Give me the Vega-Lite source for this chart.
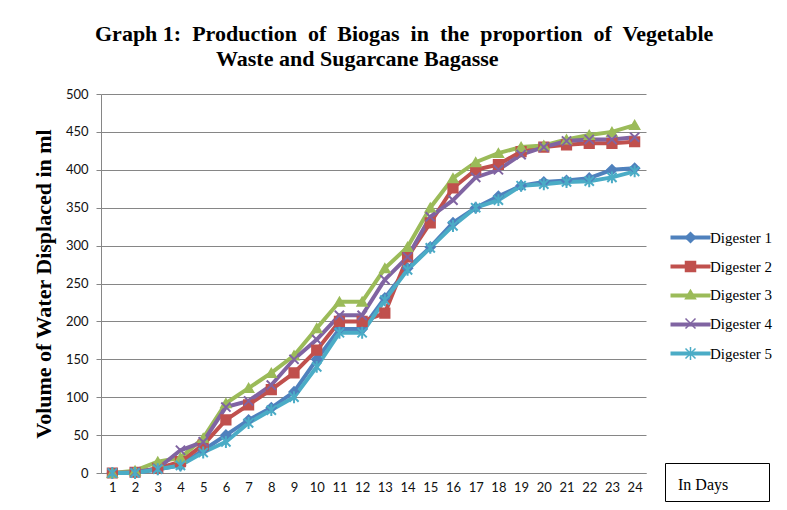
{
  "$schema": "https://vega.github.io/schema/vega-lite/v6.json",
  "autosize": "none",
  "width": 545,
  "height": 379,
  "padding": {"left": 101, "top": 94, "right": 141, "bottom": 37},
  "background": "white",
  "title": {
    "text": ["Graph 1:\u00a0 Production\u00a0 of\u00a0 Biogas\u00a0 in\u00a0 the\u00a0 proportion\u00a0 of\u00a0 Vegetable", "\u200b\u00a0\u00a0\u00a0\u00a0\u00a0\u00a0\u00a0\u00a0\u00a0\u00a0\u00a0\u00a0\u00a0\u00a0\u00a0\u00a0\u00a0\u00a0\u00a0\u00a0\u00a0\u00a0Waste and Sugarcane Bagasse"],
    "anchor": "start",
    "frame": "group",
    "align": "left",
    "dx": -6,
    "font": "Liberation Serif",
    "fontSize": 22,
    "fontWeight": "bold",
    "color": "#000000",
    "lineHeight": 25,
    "offset": 17
  },
  "datasets": {
    "biogas": [
      {"day": 1, "digester": "Digester 1", "value": 0}, {"day": 2, "digester": "Digester 1", "value": 0}, {"day": 3, "digester": "Digester 1", "value": 5}, {"day": 4, "digester": "Digester 1", "value": 10}, {"day": 5, "digester": "Digester 1", "value": 30}, {"day": 6, "digester": "Digester 1", "value": 50}, {"day": 7, "digester": "Digester 1", "value": 70}, {"day": 8, "digester": "Digester 1", "value": 86}, {"day": 9, "digester": "Digester 1", "value": 107}, {"day": 10, "digester": "Digester 1", "value": 150}, {"day": 11, "digester": "Digester 1", "value": 190}, {"day": 12, "digester": "Digester 1", "value": 190}, {"day": 13, "digester": "Digester 1", "value": 231}, {"day": 14, "digester": "Digester 1", "value": 270}, {"day": 15, "digester": "Digester 1", "value": 298}, {"day": 16, "digester": "Digester 1", "value": 330}, {"day": 17, "digester": "Digester 1", "value": 350}, {"day": 18, "digester": "Digester 1", "value": 365}, {"day": 19, "digester": "Digester 1", "value": 379}, {"day": 20, "digester": "Digester 1", "value": 384}, {"day": 21, "digester": "Digester 1", "value": 386}, {"day": 22, "digester": "Digester 1", "value": 389}, {"day": 23, "digester": "Digester 1", "value": 400}, {"day": 24, "digester": "Digester 1", "value": 402},
      {"day": 1, "digester": "Digester 2", "value": 0}, {"day": 2, "digester": "Digester 2", "value": 1}, {"day": 3, "digester": "Digester 2", "value": 6}, {"day": 4, "digester": "Digester 2", "value": 15}, {"day": 5, "digester": "Digester 2", "value": 37}, {"day": 6, "digester": "Digester 2", "value": 70}, {"day": 7, "digester": "Digester 2", "value": 90}, {"day": 8, "digester": "Digester 2", "value": 110}, {"day": 9, "digester": "Digester 2", "value": 132}, {"day": 10, "digester": "Digester 2", "value": 162}, {"day": 11, "digester": "Digester 2", "value": 200}, {"day": 12, "digester": "Digester 2", "value": 200}, {"day": 13, "digester": "Digester 2", "value": 211}, {"day": 14, "digester": "Digester 2", "value": 285}, {"day": 15, "digester": "Digester 2", "value": 330}, {"day": 16, "digester": "Digester 2", "value": 376}, {"day": 17, "digester": "Digester 2", "value": 400}, {"day": 18, "digester": "Digester 2", "value": 407}, {"day": 19, "digester": "Digester 2", "value": 424}, {"day": 20, "digester": "Digester 2", "value": 430}, {"day": 21, "digester": "Digester 2", "value": 433}, {"day": 22, "digester": "Digester 2", "value": 435}, {"day": 23, "digester": "Digester 2", "value": 435}, {"day": 24, "digester": "Digester 2", "value": 437},
      {"day": 1, "digester": "Digester 3", "value": 0}, {"day": 2, "digester": "Digester 3", "value": 3}, {"day": 3, "digester": "Digester 3", "value": 15}, {"day": 4, "digester": "Digester 3", "value": 20}, {"day": 5, "digester": "Digester 3", "value": 46}, {"day": 6, "digester": "Digester 3", "value": 92}, {"day": 7, "digester": "Digester 3", "value": 112}, {"day": 8, "digester": "Digester 3", "value": 132}, {"day": 9, "digester": "Digester 3", "value": 155}, {"day": 10, "digester": "Digester 3", "value": 191}, {"day": 11, "digester": "Digester 3", "value": 226}, {"day": 12, "digester": "Digester 3", "value": 226}, {"day": 13, "digester": "Digester 3", "value": 270}, {"day": 14, "digester": "Digester 3", "value": 298}, {"day": 15, "digester": "Digester 3", "value": 350}, {"day": 16, "digester": "Digester 3", "value": 389}, {"day": 17, "digester": "Digester 3", "value": 410}, {"day": 18, "digester": "Digester 3", "value": 422}, {"day": 19, "digester": "Digester 3", "value": 430}, {"day": 20, "digester": "Digester 3", "value": 432}, {"day": 21, "digester": "Digester 3", "value": 440}, {"day": 22, "digester": "Digester 3", "value": 446}, {"day": 23, "digester": "Digester 3", "value": 450}, {"day": 24, "digester": "Digester 3", "value": 459},
      {"day": 1, "digester": "Digester 4", "value": 0}, {"day": 2, "digester": "Digester 4", "value": 1}, {"day": 3, "digester": "Digester 4", "value": 6}, {"day": 4, "digester": "Digester 4", "value": 30}, {"day": 5, "digester": "Digester 4", "value": 41}, {"day": 6, "digester": "Digester 4", "value": 87}, {"day": 7, "digester": "Digester 4", "value": 95}, {"day": 8, "digester": "Digester 4", "value": 116}, {"day": 9, "digester": "Digester 4", "value": 150}, {"day": 10, "digester": "Digester 4", "value": 176}, {"day": 11, "digester": "Digester 4", "value": 208}, {"day": 12, "digester": "Digester 4", "value": 208}, {"day": 13, "digester": "Digester 4", "value": 255}, {"day": 14, "digester": "Digester 4", "value": 285}, {"day": 15, "digester": "Digester 4", "value": 338}, {"day": 16, "digester": "Digester 4", "value": 360}, {"day": 17, "digester": "Digester 4", "value": 390}, {"day": 18, "digester": "Digester 4", "value": 400}, {"day": 19, "digester": "Digester 4", "value": 420}, {"day": 20, "digester": "Digester 4", "value": 430}, {"day": 21, "digester": "Digester 4", "value": 438}, {"day": 22, "digester": "Digester 4", "value": 440}, {"day": 23, "digester": "Digester 4", "value": 440}, {"day": 24, "digester": "Digester 4", "value": 443},
      {"day": 1, "digester": "Digester 5", "value": 0}, {"day": 2, "digester": "Digester 5", "value": 0}, {"day": 3, "digester": "Digester 5", "value": 5}, {"day": 4, "digester": "Digester 5", "value": 10}, {"day": 5, "digester": "Digester 5", "value": 27}, {"day": 6, "digester": "Digester 5", "value": 41}, {"day": 7, "digester": "Digester 5", "value": 66}, {"day": 8, "digester": "Digester 5", "value": 83}, {"day": 9, "digester": "Digester 5", "value": 100}, {"day": 10, "digester": "Digester 5", "value": 140}, {"day": 11, "digester": "Digester 5", "value": 185}, {"day": 12, "digester": "Digester 5", "value": 185}, {"day": 13, "digester": "Digester 5", "value": 228}, {"day": 14, "digester": "Digester 5", "value": 268}, {"day": 15, "digester": "Digester 5", "value": 297}, {"day": 16, "digester": "Digester 5", "value": 326}, {"day": 17, "digester": "Digester 5", "value": 350}, {"day": 18, "digester": "Digester 5", "value": 360}, {"day": 19, "digester": "Digester 5", "value": 379}, {"day": 20, "digester": "Digester 5", "value": 381}, {"day": 21, "digester": "Digester 5", "value": 384}, {"day": 22, "digester": "Digester 5", "value": 385}, {"day": 23, "digester": "Digester 5", "value": 390}, {"day": 24, "digester": "Digester 5", "value": 398}
    ]
  },
  "data": {"name": "biogas"},
  "encoding": {
    "x": {
      "field": "day",
      "type": "ordinal",
      "scale": {"type": "point", "padding": 0.5},
      "axis": {
        "title": null,
        "labelAngle": 0,
        "labelFont": "Lato",
        "labelFontSize": 13,
        "labelColor": "#111111",
        "labelPadding": 8,
        "ticks": false,
        "domain": true,
        "domainColor": "#868686",
        "grid": false
      }
    },
    "y": {
      "field": "value",
      "type": "quantitative",
      "scale": {"domain": [0, 500], "nice": false},
      "axis": {
        "title": "Volume of Water Displaced in ml",
        "titleFont": "Liberation Serif",
        "titleFontSize": 22,
        "titleFontWeight": "bold",
        "titleColor": "#000000",
        "titlePadding": 10,
        "values": [0, 50, 100, 150, 200, 250, 300, 350, 400, 450, 500],
        "labelFont": "Lato",
        "labelFontSize": 13,
        "labelColor": "#111111",
        "labelPadding": 8,
        "tickSize": 5,
        "tickColor": "#868686",
        "domainColor": "#868686",
        "gridColor": "#868686",
        "grid": true
      }
    }
  },
  "layer": [
    {
      "mark": {"type": "line", "strokeWidth": 4},
      "encoding": {
        "color": {
          "field": "digester",
          "type": "nominal",
          "scale": {"domain": ["Digester 1", "Digester 2", "Digester 3", "Digester 4", "Digester 5"], "range": ["#4F81BD", "#C0504D", "#9BBB59", "#8064A2", "#4BACC6"]},
          "legend": {
            "title": null,
            "orient": "none",
            "legendX": 582,
            "legendY": 136,
            "labelFont": "Liberation Serif",
            "labelFontSize": 15,
            "labelColor": "#000000",
            "labelOffset": 12,
            "rowPadding": 12,
            "symbolSize": 100
          }
        }
      }
    },
    {
      "mark": {"type": "point", "filled": true, "size": 85, "strokeWidth": 2, "opacity": 1},
      "encoding": {
        "color": {"field": "digester", "type": "nominal", "legend": null},
        "stroke": {
          "field": "digester",
          "type": "nominal",
          "scale": {"range": ["#4F81BD", "#C0504D", "#9BBB59", "#8064A2", "#4BACC6"]},
          "legend": {
            "title": null,
            "orient": "none",
            "legendX": 582,
            "legendY": 136,
            "labelFont": "Liberation Serif",
            "labelFontSize": 15,
            "labelColor": "rgba(0,0,0,0)",
            "labelOpacity": 0,
            "labelOffset": 12,
            "rowPadding": 12,
            "symbolSize": 100,
            "symbolType": "M-4,0H4",
            "symbolStrokeWidth": 4,
            "symbolOpacity": 1
          }
        },
        "shape": {
          "field": "digester",
          "type": "nominal",
          "scale": {"domain": ["Digester 1", "Digester 2", "Digester 3", "Digester 4", "Digester 5"], "range": ["diamond", "square", "triangle-up", "M-1,-1L1,1M-1,1L1,-1", "M-1,-1L1,1M-1,1L1,-1M0,-1.3V1.3"]},
          "legend": null
        }
      }
    },
    {
      "mark": {"type": "rule", "opacity": 0},
      "encoding": {
        "y": {"datum": 0},
        "strokeDash": {
          "datum": "In Days",
          "type": "nominal",
          "legend": {
            "title": null,
            "orient": "none",
            "legendX": 564,
            "legendY": 369,
            "strokeColor": "#000000",
            "padding": 8,
            "symbolSize": 1225,
            "symbolOpacity": 0,
            "labelOffset": -32,
            "labelBaseline": "alphabetic",
            "labelFont": "Liberation Serif",
            "labelFontSize": 16,
            "labelColor": "#000000",
            "labelExpr": "'In Days\u00a0\u00a0\u00a0\u00a0\u00a0\u00a0\u00a0\u00a0\u200b'"
          }
        }
      }
    }
  ],
  "config": {
    "view": {"stroke": null},
    "axis": {"labelFont": "Lato"}
  }
}
